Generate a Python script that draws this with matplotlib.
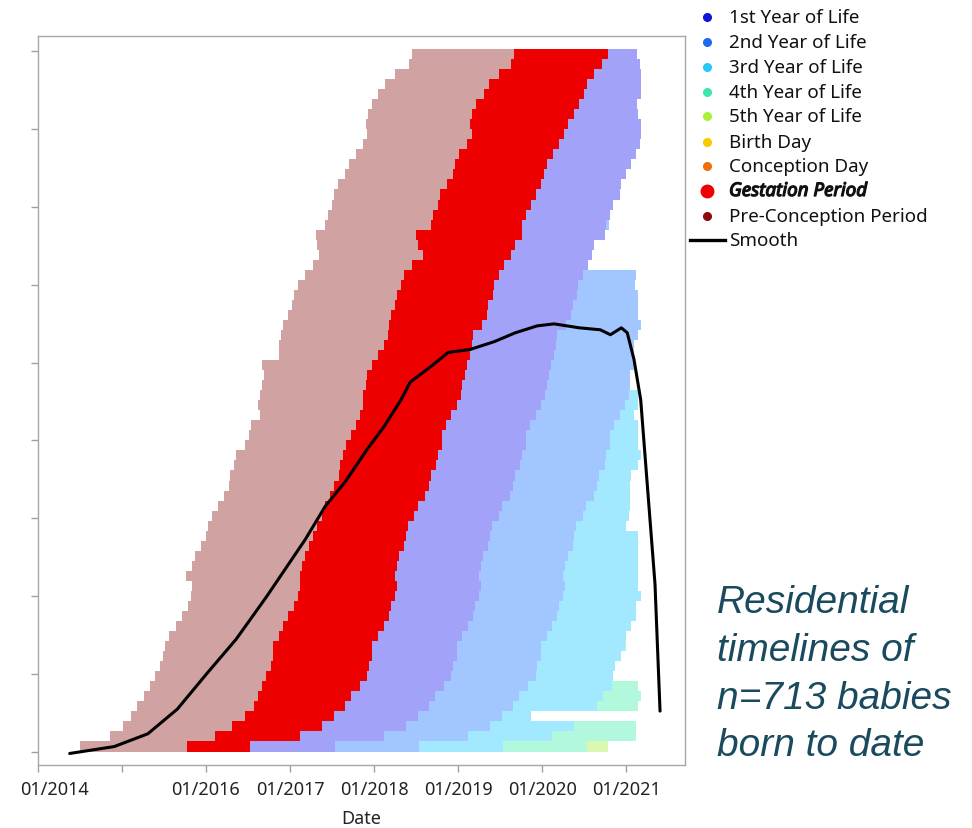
import numpy as np
import matplotlib
matplotlib.use("Agg")
import matplotlib.pyplot as plt
import matplotlib.transforms as mtransforms
import matplotlib.patheffects as pe

# ---------------- data (decimal years), grouped rows from bottom (earliest birth) to top ----------------
n_babies = 713

pre_start = [2014.50, 2014.86, 2015.01, 2015.11, 2015.18, 2015.26, 2015.33, 2015.39, 2015.46, 2015.49,
             2015.51, 2015.56, 2015.64, 2015.71, 2015.79, 2015.82, 2015.84, 2015.76, 2015.84, 2015.87,
             2015.94, 2016.00, 2016.02, 2016.07, 2016.14, 2016.22, 2016.27, 2016.29, 2016.34, 2016.36,
             2016.47, 2016.51, 2016.54, 2016.64, 2016.62, 2016.64, 2016.67, 2016.69, 2016.67, 2016.87,
             2016.87, 2016.89, 2016.92, 2016.98, 2017.02, 2017.05, 2017.09, 2017.18, 2017.27, 2017.35,
             2017.32, 2017.31, 2017.42, 2017.45, 2017.50, 2017.52, 2017.57, 2017.65, 2017.70, 2017.78,
             2017.87, 2017.91, 2017.90, 2017.93, 2017.98, 2018.05, 2018.13, 2018.25, 2018.42, 2018.45]

conception = [2015.77, 2016.11, 2016.31, 2016.47, 2016.57, 2016.62, 2016.67, 2016.72, 2016.77, 2016.80,
              2016.80, 2016.87, 2016.92, 2016.98, 2017.05, 2017.09, 2017.12, 2017.12, 2017.14, 2017.18,
              2017.22, 2017.27, 2017.32, 2017.38, 2017.42, 2017.47, 2017.52, 2017.58, 2017.60, 2017.63,
              2017.67, 2017.72, 2017.78, 2017.83, 2017.87, 2017.87, 2017.90, 2017.92, 2017.98, 2018.05,
              2018.12, 2018.16, 2018.18, 2018.20, 2018.25, 2018.27, 2018.32, 2018.36, 2018.45, 2018.58,
              2018.52, 2018.50, 2018.68, 2018.70, 2018.76, 2018.78, 2018.87, 2018.94, 2018.96, 2019.01,
              2019.10, 2019.16, 2019.14, 2019.16, 2019.21, 2019.31, 2019.37, 2019.49, 2019.63, 2019.66]

birth = [2016.53, 2017.12, 2017.38, 2017.52, 2017.65, 2017.72, 2017.83, 2017.92, 2017.94, 2017.98,
         2017.98, 2018.05, 2018.12, 2018.18, 2018.20, 2018.25, 2018.27, 2018.25, 2018.27, 2018.30,
         2018.36, 2018.38, 2018.40, 2018.48, 2018.52, 2018.61, 2018.65, 2018.68, 2018.74, 2018.76,
         2018.81, 2018.81, 2018.85, 2018.92, 2018.98, 2019.03, 2019.05, 2019.08, 2019.10, 2019.14,
         2019.16, 2019.18, 2019.28, 2019.34, 2019.36, 2019.41, 2019.43, 2019.48, 2019.54, 2019.63,
         2019.68, 2019.76, 2019.76, 2019.81, 2019.87, 2019.93, 2019.99, 2020.02, 2020.06, 2020.13,
         2020.20, 2020.26, 2020.31, 2020.38, 2020.44, 2020.49, 2020.53, 2020.61, 2020.71, 2020.78]

end_date = [2020.78, 2021.11, 2021.11, 2019.87, 2021.14, 2021.17, 2021.14, 2020.84, 2020.87, 2020.93,
            2020.99, 2020.99, 2021.05, 2021.11, 2021.11, 2021.17, 2021.14, 2021.14, 2021.14, 2021.14,
            2021.14, 2021.14, 2020.99, 2021.03, 2021.04, 2021.04, 2021.04, 2021.05, 2021.14, 2021.17,
            2021.14, 2021.14, 2021.14, 2021.09, 2021.14, 2021.14, 2021.04, 2021.04, 2021.09, 2021.09,
            2021.09, 2021.14, 2021.17, 2021.14, 2021.14, 2021.14, 2021.10, 2021.12, 2020.54, 2020.59,
            2020.61, 2020.74, 2020.79, 2020.81, 2020.84, 2020.92, 2020.94, 2020.99, 2021.06, 2021.11,
            2021.16, 2021.17, 2021.17, 2021.14, 2021.13, 2021.17, 2021.17, 2021.17, 2021.16, 2021.13]

smooth_x = [2014.38, 2014.91, 2015.31, 2015.66, 2016.02, 2016.36, 2016.72, 2017.18, 2017.42, 2017.65,
            2017.92, 2018.12, 2018.32, 2018.43, 2018.68, 2018.88, 2019.14, 2019.43, 2019.68, 2019.94,
            2020.14, 2020.44, 2020.69, 2020.81, 2020.94, 2021.01, 2021.09, 2021.17, 2021.34, 2021.40]
smooth_y = [-2, 5, 18, 43, 80, 114, 157, 215, 249, 273,
            307, 330, 357, 375, 391, 405, 408, 416, 425, 432,
            434, 430, 428, 423, 430, 425, 398, 357, 170, 41]

tick_years = [2014, 2015, 2016, 2017, 2018, 2019, 2020, 2021]
tick_labels = ["01/2014", "", "01/2016", "01/2017", "01/2018", "01/2019", "01/2020", "01/2021"]

legend_labels = ["1st Year of Life", "2nd Year of Life", "3rd Year of Life", "4th Year of Life",
                 "5th Year of Life", "Birth Day", "Conception Day", "Gestation Period",
                 "Pre-Conception Period"]
legend_colors = ["#1414D8", "#1E6AF0", "#28C8F0", "#3CE8A8", "#A8F03C", "#F8C800", "#F06E0A",
                 "#F00000", "#8C0A0A"]

annotation_lines = ["Residential", "timelines of", "n=713 babies", "born to date"]

# ---------------- styling ----------------
C_PRE = "#D0A2A2"
C_GEST = "#EE0000"
C_YEARS = ["#A2A2F8", "#A2C6FF", "#A2E8FF", "#B2F8DC", "#D8F8B0"]

W, H, DPI = 972, 829, 100
plt.rcParams["font.family"] = ["Noto Sans", "DejaVu Sans"]
fig = plt.figure(figsize=(W / DPI, H / DPI), dpi=DPI)

ax = fig.add_axes([37.7 / W, 1 - 766 / H, (685 - 37.7) / W, (766 - 37) / H])

n_groups = len(birth)
row_h = n_babies / n_groups
ys = (np.arange(n_groups) + 0.5) * row_h

pre_start_a = np.array(pre_start)
conc_a = np.array(conception)
birth_a = np.array(birth)
end_a = np.array(end_date)

ax.barh(ys, conc_a - pre_start_a, left=pre_start_a, height=row_h, color=C_PRE, linewidth=0)
ax.barh(ys, birth_a - conc_a, left=conc_a, height=row_h, color=C_GEST, linewidth=0)
for k, col in enumerate(C_YEARS):
    s = birth_a + k
    e = np.minimum(birth_a + k + 1, end_a)
    w = np.clip(e - s, 0, None)
    ax.barh(ys, w, left=s, height=row_h, color=col, linewidth=0)

ax.plot(smooth_x, smooth_y, color="black", lw=2.2, solid_capstyle="round",
        solid_joinstyle="round", zorder=5)

ax.set_xlim(2014.0, 2014 + (685 - 37.7) / 84.1)
y_lo = -(766 - 752.5) / 0.9853
y_hi = (752.5 - 37) / 0.9853
ax.set_ylim(y_lo, y_hi)

ax.set_xticks(tick_years)
ax.set_xticklabels(tick_labels, fontsize=13, color="#222222")
ax.set_yticks(np.linspace(-0.5, 711, 10))
ax.set_yticklabels([])
for sp in ax.spines.values():
    sp.set_color("#A8A8A8")
    sp.set_linewidth(1.0)
ax.tick_params(axis="both", colors="#A0A0A0", length=5, width=1, labelcolor="#222222")
ax.tick_params(axis="x", pad=6)
ax.set_xlabel("Date", fontsize=13, color="#222222", labelpad=8)

# shift first tick label right as in the reference
first = ax.get_xticklabels()[0]
first.set_transform(first.get_transform() +
                    mtransforms.ScaledTranslation(17 / DPI, 0, fig.dpi_scale_trans))

# ---------------- legend (figure pixel coordinates) ----------------
lax = fig.add_axes([0, 0, 1, 1])
lax.set_xlim(0, W)
lax.set_ylim(H, 0)
lax.axis("off")
leg_y = [18, 43, 68, 93, 117, 143, 167, 192, 217]
for lab, col, yy in zip(legend_labels, legend_colors, leg_y):
    big = lab == "Gestation Period"
    lax.plot([707], [yy], marker="o", ms=9 if big else 5.5, color=col, mec=col, ls="none")
    t = lax.text(729, yy, lab, fontsize=13.5, va="center", ha="left", color="#111111",
                 fontweight="bold" if big else "normal",
                 fontstyle="italic" if big else "normal")
    if big:
        t.set_path_effects([pe.withStroke(linewidth=0.9, foreground="#111111")])
lax.plot([690, 725], [241, 241], color="black", lw=2.4)
lax.text(729, 241, "Smooth", fontsize=13.5, va="center", ha="left", color="#111111")

base_y = [613, 661, 709, 756]
for line, yy in zip(annotation_lines, base_y):
    lax.text(717, yy, line, fontsize=28, fontstyle="italic", color="#1A4A5E",
             family=["Liberation Sans", "DejaVu Sans"], va="baseline", ha="left")

fig.savefig("out.png", dpi=DPI)
